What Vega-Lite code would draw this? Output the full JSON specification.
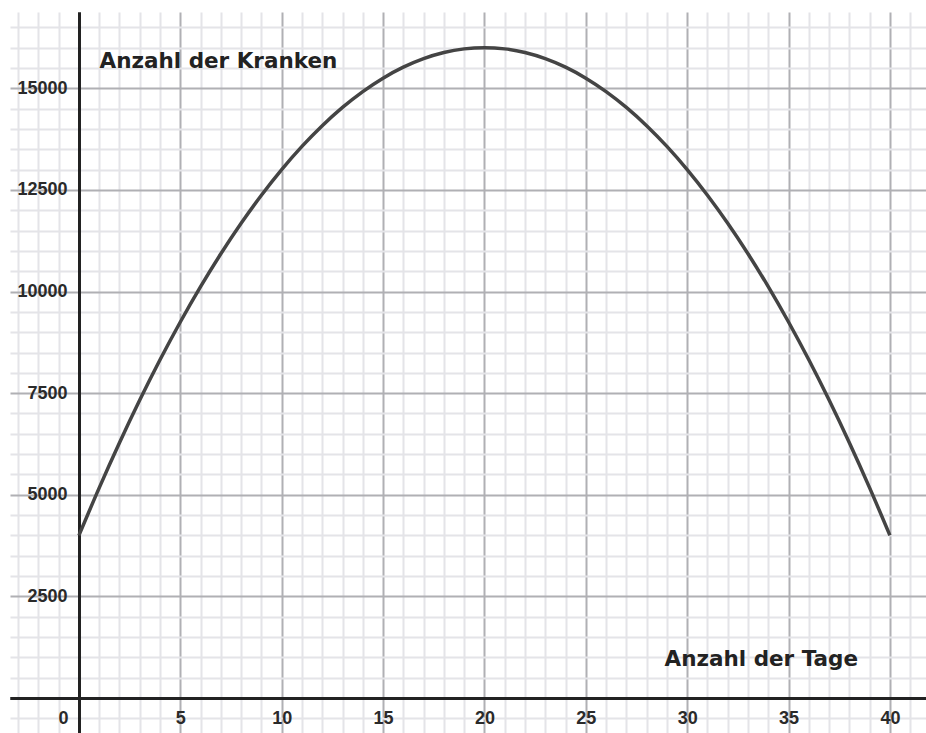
{
  "$schema": "https://vega.github.io/schema/vega-lite/v6.json",
  "width": 916,
  "height": 721,
  "autosize": {"type": "none"},
  "padding": {"left": 10, "top": 12, "right": 0, "bottom": 0},
  "background": "white",
  "config": {"view": {"stroke": null}},
  "data": {"values": [
    {"tag": 0, "kranke": 4000}, {"tag": 1, "kranke": 5170}, {"tag": 2, "kranke": 6280}, {"tag": 3, "kranke": 7330},
    {"tag": 4, "kranke": 8320}, {"tag": 5, "kranke": 9250}, {"tag": 6, "kranke": 10120}, {"tag": 7, "kranke": 10930},
    {"tag": 8, "kranke": 11680}, {"tag": 9, "kranke": 12370}, {"tag": 10, "kranke": 13000}, {"tag": 11, "kranke": 13570},
    {"tag": 12, "kranke": 14080}, {"tag": 13, "kranke": 14530}, {"tag": 14, "kranke": 14920}, {"tag": 15, "kranke": 15250},
    {"tag": 16, "kranke": 15520}, {"tag": 17, "kranke": 15730}, {"tag": 18, "kranke": 15880}, {"tag": 19, "kranke": 15970},
    {"tag": 20, "kranke": 16000}, {"tag": 21, "kranke": 15970}, {"tag": 22, "kranke": 15880}, {"tag": 23, "kranke": 15730},
    {"tag": 24, "kranke": 15520}, {"tag": 25, "kranke": 15250}, {"tag": 26, "kranke": 14920}, {"tag": 27, "kranke": 14530},
    {"tag": 28, "kranke": 14080}, {"tag": 29, "kranke": 13570}, {"tag": 30, "kranke": 13000}, {"tag": 31, "kranke": 12370},
    {"tag": 32, "kranke": 11680}, {"tag": 33, "kranke": 10930}, {"tag": 34, "kranke": 10120}, {"tag": 35, "kranke": 9250},
    {"tag": 36, "kranke": 8320}, {"tag": 37, "kranke": 7330}, {"tag": 38, "kranke": 6280}, {"tag": 39, "kranke": 5170},
    {"tag": 40, "kranke": 4000}
  ]},
  "mark": {"type": "line", "color": "#444444", "strokeWidth": 3.5, "interpolate": "monotone", "clip": true},
  "encoding": {
    "x": {
      "field": "tag", "type": "quantitative",
      "scale": {"domain": [-3.4, 41.78], "nice": false, "zero": false},
      "axis": {
        "orient": "bottom",
        "offset": -35,
        "values": [-3, -2, -1, 0, 1, 2, 3, 4, 5, 6, 7, 8, 9, 10, 11, 12, 13, 14, 15, 16, 17, 18, 19, 20, 21, 22, 23, 24, 25, 26, 27, 28, 29, 30, 31, 32, 33, 34, 35, 36, 37, 38, 39, 40, 41],
        "grid": true,
        "gridColor": {"condition": [{"test": "datum.value === 0", "value": "#222222"}, {"test": "datum.value % 5 === 0", "value": "#b0b0b4"}], "value": "#e4e4e8"},
        "gridWidth": {"condition": {"test": "datum.value === 0", "value": 3}, "value": 2},
        "domain": true,
        "domainColor": "#222222",
        "domainWidth": 3,
        "ticks": false,
        "format": "d",
        "labelExpr": "datum.value >= 0 && datum.value <= 40 && datum.value % 5 === 0 ? datum.label : ''",
        "labelOffset": {"condition": {"test": "datum.value === 0", "value": -16}, "value": 0},
        "labelFont": "Liberation Sans",
        "labelFontSize": 18,
        "labelFontWeight": "bold",
        "labelColor": "#2a2a2a",
        "labelPadding": 11,
        "labelBaseline": "top",
        "labelOverlap": false,
        "labelFlush": false,
        "title": "Anzahl der Tage",
        "titleFont": "DejaVu Sans",
        "titleFontSize": 21.5,
        "titleFontWeight": "bold",
        "titleColor": "#222222",
        "titleAlign": "left",
        "titleBaseline": "alphabetic",
        "titleAngle": 0,
        "titleX": 654,
        "titleY": -33,
        "zindex": 0
      }
    },
    "y": {
      "field": "kranke", "type": "quantitative",
      "scale": {"domain": [-861, 16877], "nice": false, "zero": false},
      "axis": {
        "orient": "left",
        "offset": -69,
        "values": [-500, 0, 500, 1000, 1500, 2000, 2500, 3000, 3500, 4000, 4500, 5000, 5500, 6000, 6500, 7000, 7500, 8000, 8500, 9000, 9500, 10000, 10500, 11000, 11500, 12000, 12500, 13000, 13500, 14000, 14500, 15000, 15500, 16000, 16500],
        "grid": true,
        "gridColor": {"condition": [{"test": "datum.value === 0", "value": "#222222"}, {"test": "datum.value % 2500 === 0", "value": "#b0b0b4"}], "value": "#e4e4e8"},
        "gridWidth": {"condition": {"test": "datum.value === 0", "value": 3}, "value": 2},
        "domain": true,
        "domainColor": "#222222",
        "domainWidth": 3,
        "ticks": false,
        "format": "d",
        "labelExpr": "datum.value >= 2500 && datum.value <= 15000 && datum.value % 2500 === 0 ? datum.label : ''",
        "labelFont": "Liberation Sans",
        "labelFontSize": 18,
        "labelFontWeight": "bold",
        "labelColor": "#2a2a2a",
        "labelPadding": 12,
        "labelOverlap": false,
        "labelFlush": false,
        "title": "Anzahl der Kranken",
        "titleFont": "DejaVu Sans",
        "titleFontSize": 21.5,
        "titleFontWeight": "bold",
        "titleColor": "#222222",
        "titleAlign": "left",
        "titleBaseline": "alphabetic",
        "titleAngle": 0,
        "titleX": 20,
        "titleY": 55,
        "zindex": 0
      }
    }
  }
}
